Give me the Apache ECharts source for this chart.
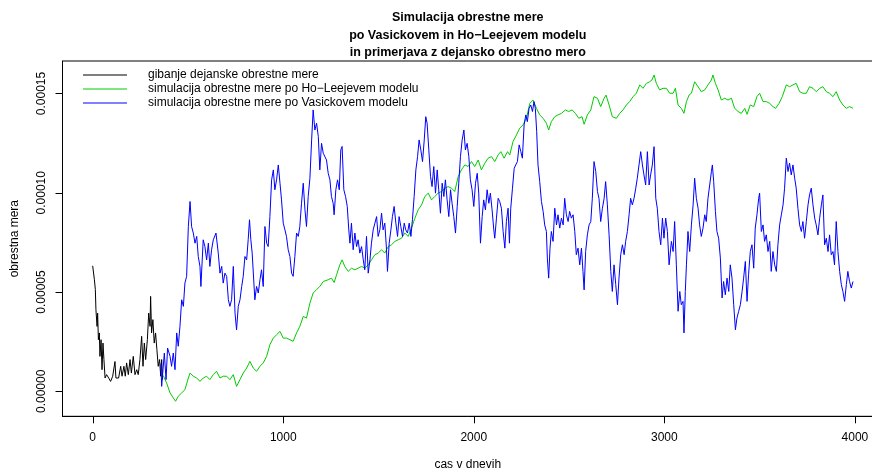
<!DOCTYPE html>
<html>
<head>
<meta charset="utf-8">
<script src="https://cdn.jsdelivr.net/npm/echarts@6/dist/echarts.min.js"></script>
<style>
  html, body { margin: 0; padding: 0; background: #fff; }
  #chart { width: 872px; height: 472px; }
</style>
</head>
<body>
<div id="chart"></div>
<script>
// vrednosti so v enotah 1e-5, [dan, obrestna mera]
var dejanskaMera = [
  [0,6.32],[9,5.62],[14,5.12],[17,4.11],[23,3.27],[26,3.94],[30,2.6],[35,2.94],[38,1.76],[44,2.6],
  [49,1.09],[54,2.43],[59,1.6],[65,0.67],[73,0.84],[84,0.67],[94,0.5],[105,0.76],[117,1.5],[122,0.67],
  [136,0.67],[147,1.26],[154,0.76],[164,1.26],[171,0.76],[178,1.43],[187,0.84],[196,1.6],[203,0.92],
  [213,1.76],[222,0.84],[231,1.09],[239,0.84],[248,1.6],[257,2.77],[264,1.26],[271,2.43],[278,1.6],
  [287,2.6],[294,3.94],[301,3.27],[304,4.78],[309,2.94],[316,3.61],[323,2.43],[330,2.94],[337,2.1],
  [344,1.26],[351,1.6],[357,0.76],[362,1.6],[367,0.59]
];

var hoLeeSim = [
  [370,0.8],[388,0.42],[406,-0.08],[423,-0.33],[435,-0.5],[449,-0.25],[467,-0.08],[484,0.08],[502,0.67],
  [511,0.92],[528,0.76],[546,0.67],[563,0.5],[580,0.67],[598,0.76],[615,0.59],[633,0.84],[650,1.01],
  [668,0.67],[685,0.76],[703,0.76],[720,0.59],[738,0.84],[755,0.25],[773,0.59],[790,0.92],[808,1.17],
  [825,1.51],[843,1.17],[860,1.01],[878,1.26],[895,1.43],[913,1.76],[930,2.35],[948,2.68],[965,2.85],
  [983,3.02],[1000,2.68],[1017,2.68],[1035,2.6],[1052,2.52],[1070,2.94],[1087,3.27],[1105,3.77],
  [1122,3.69],[1140,4.44],[1157,4.95],[1175,5.12],[1192,5.28],[1210,5.53],
  [1236,5.62],[1253,5.7],[1267,5.48],[1280,5.87],[1297,6.37],[1309,6.62],[1323,6.29],[1341,6.04],
  [1358,6.2],[1376,6.12],[1393,6.2],[1411,6.29],[1428,6.2],[1446,6.37],[1463,6.62],[1481,6.88],
  [1498,6.96],[1516,7.13],[1533,6.96],[1551,7.29],[1568,7.38],[1586,7.55],[1603,7.63],[1621,7.71],
  [1638,7.97],[1656,7.8],[1673,8.22],[1691,8.72],[1708,9.14],[1726,9.39],[1743,9.81],[1761,9.98],
  [1778,9.64],[1795,9.81],[1813,9.98],[1830,10.06],[1848,10.23],[1865,10.31],[1883,10.23],[1900,10.06],
  [1918,10.81],[1935,11.15],[1953,11.4],[1970,11.32],[1988,11.57],[2005,11.32],[2023,11.65],[2040,11.15],
  [2058,11.49],[2075,11.74],[2093,11.82],
  [2110,11.57],[2128,11.91],[2142,12.07],[2159,11.74],[2177,12.07],[2189,11.91],[2206,12.58],[2224,12.91],
  [2241,13.25],[2259,13.42],[2276,13.75],[2294,14.5],[2311,14.67],[2329,14.25],[2346,13.92],[2364,13.75],
  [2381,13.5],[2393,13.16],[2407,13.58],[2425,13.83],[2442,13.92],[2460,14.0],[2481,14.17],[2498,14.09],
  [2516,14.17],[2533,14.0],[2551,13.75],[2568,13.83],[2579,13.45],[2596,13.92],[2614,14.17],[2631,14.84],
  [2649,14.76],[2666,14.34],[2684,14.76],[2694,14.92],[2710,14.42],[2727,13.83],[2748,13.75],[2766,14.0],
  [2783,14.17],[2801,14.42],[2818,14.59],[2836,14.84],[2853,15.01],[2871,15.43],[2888,15.26],[2906,15.51],
  [2923,15.59],[2935,15.68],[2946,15.93],[2958,15.51],[2975,15.18],[2993,15.26],[3011,15.26],
  [3028,15.01],[3046,15.01],[3058,15.26],[3072,14.42],[3089,14.25],[3103,14.0],[3116,14.59],[3130,14.92],
  [3142,15.01],[3159,15.59],[3177,15.34],[3194,15.09],[3212,15.18],[3229,15.43],[3247,15.68],[3255,15.93],
  [3268,15.51],[3282,15.18],[3299,14.67],[3317,14.76],[3334,14.67],[3352,14.76],[3369,14.25],[3387,14.09],
  [3404,14.0],[3422,14.25],[3434,13.95],[3451,14.42],[3469,14.34],[3486,14.84],[3500,15.01],[3518,14.59],
  [3535,14.59],[3553,14.5],[3570,14.34],[3584,14.25],[3602,14.5],[3619,14.84],[3640,15.43],[3657,15.34],
  [3675,15.43],[3692,15.51],[3710,15.09],[3727,15.01],[3745,15.01],[3762,15.34],[3780,15.26],[3797,15.09],
  [3815,15.26],[3832,15.34],[3850,15.09],[3867,15.01],[3885,14.84],[3902,15.09],[3920,14.67],[3937,14.42],
  [3955,14.25],[3972,14.34],[3990,14.25]
];

var vasicekSim = [
  [358,1.4],[362,0.25],[376,1.93],[385,0.59],[393,2.18],[406,1.76],[414,1.26],[423,1.93],[432,1.09],
  [441,2.94],[449,2.27],[458,3.27],[467,4.61],[476,4.28],[484,5.45],[493,5.79],[502,8.3],[511,9.56],
  [519,8.3],[528,7.97],[537,7.46],[546,7.8],[554,6.79],[563,6.29],[568,5.28],[580,7.63],[589,7.29],
  [598,6.62],[607,7.46],[615,6.29],[624,7.13],[633,7.63],[647,7.97],[659,6.96],[668,5.95],[677,6.29],
  [685,5.45],[694,5.95],[703,5.79],[712,4.61],[720,4.28],[729,4.61],[738,6.29],[747,3.94],[755,3.1],
  [764,4.28],[773,4.61],[782,5.28],[790,5.79],[799,6.79],[808,6.62],[816,7.63],[823,8.64],[830,7.63],
  [837,6.96],[846,5.45],[851,4.61],[860,5.28],[869,4.95],[878,5.62],[886,6.12],[895,5.28],[904,8.3],
  [913,7.46],[921,7.29],[930,8.8],[939,10.65],[948,11.15],[956,10.15],[965,10.65],[974,11.4],[983,10.48],
  [991,9.64],[1000,8.47],[1009,8.13],[1017,7.8],[1026,7.13],[1035,6.79],[1044,5.95],[1052,5.79],
  [1061,6.79],[1070,7.97],[1079,7.8],[1087,8.3],[1096,9.47],[1105,10.48],[1114,9.14],[1122,8.3],
  [1131,9.81],[1140,10.73],[1149,12.66],[1157,14.17],[1166,13.16],[1175,13.5],[1184,12.83],[1192,11.15],
  [1201,12.49],[1210,11.99],
  [1218,12.07],[1227,11.65],[1236,10.98],[1245,10.65],[1253,9.81],[1262,9.47],[1267,8.89],[1276,10.15],
  [1285,10.65],[1294,10.15],[1302,12.16],[1309,12.33],[1318,10.15],[1327,9.81],[1336,9.31],[1344,8.13],
  [1350,7.46],[1358,8.47],[1367,7.13],[1376,7.97],[1385,7.29],[1393,7.63],[1402,6.96],[1411,7.29],
  [1420,6.62],[1428,6.12],[1437,7.8],[1446,5.95],[1455,6.62],[1463,7.46],[1472,8.13],[1481,8.47],
  [1490,8.8],[1498,7.8],[1507,8.13],[1516,8.97],[1524,8.13],[1533,8.47],[1542,7.13],[1547,6.04],
  [1556,7.46],[1565,8.13],[1573,8.8],[1582,9.31],[1591,8.47],[1600,7.8],[1608,8.8],[1617,8.3],
  [1626,7.8],[1635,8.47],[1643,8.13],[1652,7.97],[1661,8.47],[1670,7.8],[1678,8.64],[1687,9.81],
  [1696,11.15],[1705,11.82],[1713,12.66],[1722,12.16],[1731,11.57],[1740,12.66],[1748,13.83],[1755,13.5],
  [1764,12.16],[1773,10.81],[1781,10.31],[1790,11.32],[1799,9.98],[1808,11.15],[1816,10.15],[1825,8.97],
  [1834,10.48],[1843,9.81],[1851,10.65],[1860,9.64],[1869,8.8],[1878,10.15],[1886,9.47],[1895,8.8],
  [1904,7.97],[1913,9.31],[1921,10.48],[1930,11.82],[1939,12.66],[1948,13.16],[1956,12.16],[1965,12.49],
  [1974,11.82],[1982,10.65],[1991,10.15],[2000,9.31],[2009,10.48],[2018,10.98],[2026,9.98],[2035,7.46],
  [2044,8.8],[2052,9.64],[2061,9.14],[2070,10.15],[2079,9.47],[2087,9.98],[2096,9.14],[2105,8.13],
  [2110,7.71],[2119,8.72],[2128,9.72],[2136,9.56],[2145,9.22],[2154,8.05],[2163,7.21],[2171,8.55],
  [2180,9.22],[2187,7.46],[2194,9.22],[2203,10.23],[2212,11.23],[2220,11.4],[2229,11.57],[2238,12.41],
  [2247,12.07],[2255,11.74],[2264,13.42],[2273,13.92],[2281,13.58],[2290,14.25],[2299,14.42],[2308,14.09],
  [2316,14.59],[2323,14.25],[2330,13.08],[2337,11.4],[2346,10.56],[2355,9.56],[2364,9.06],[2372,8.38],
  [2381,8.05],[2386,6.71],[2393,5.7],[2400,7.21],[2407,8.05],[2416,7.55],[2425,9.22],[2434,8.38],
  [2442,8.89],[2451,8.22],[2460,8.72],[2469,8.38],[2477,9.72],[2486,8.89],[2495,8.55],[2503,9.06],
  [2512,8.72],[2521,8.89],[2530,8.05],[2538,6.88],[2547,7.21],[2556,6.37],[2565,7.21],[2573,6.04],
  [2579,5.11],[2587,7.04],[2596,7.88],[2605,8.38],[2614,8.55],[2622,9.72],[2631,11.57],[2640,11.07],
  [2649,10.06],[2657,9.72],[2666,8.55],[2675,9.22],[2684,9.72],[2692,10.56],[2701,9.39],[2710,7.88],
  [2719,6.04],[2727,5.03],[2736,6.37],[2745,5.37],[2754,4.36],[2762,5.7],[2771,6.88],[2780,7.38],
  [2789,6.88],[2797,7.55],[2806,8.05],[2815,8.89],[2823,9.72],[2832,9.39],[2841,9.72],[2850,10.23],
  [2858,10.73],[2867,11.4],[2876,12.07],[2885,11.4],[2893,10.9],[2902,10.39],[2911,12.07],[2920,10.39],
  [2928,10.9],[2937,11.4],[2946,12.32],[2955,9.72],[2963,9.22],[2972,8.05],[2981,7.38],[2990,8.72],
  [2998,7.71],[3007,8.72],[3016,8.05],[3025,6.37],
  [3037,7.55],[3046,7.04],[3054,8.55],[3063,6.37],[3072,4.03],[3081,5.03],[3089,4.36],[3098,4.53],
  [3103,2.94],[3110,5.03],[3116,6.37],[3124,8.05],[3133,7.04],[3142,8.38],[3151,9.39],[3159,10.73],
  [3168,9.72],[3177,9.22],[3185,8.38],[3194,7.8],[3203,8.22],[3212,8.89],[3220,8.55],[3229,9.72],
  [3238,10.39],[3247,11.07],[3252,11.4],[3259,10.56],[3268,9.06],[3276,8.05],[3285,7.71],[3294,6.71],
  [3303,4.7],[3311,5.53],[3320,4.86],[3329,5.7],[3338,5.03],[3346,6.37],[3355,5.7],[3364,4.36],
  [3373,3.1],[3381,3.69],[3390,4.03],[3399,4.36],[3408,5.03],[3416,5.7],[3425,6.54],[3434,4.53],
  [3442,5.87],[3451,7.04],[3460,7.38],[3469,6.2],[3477,8.22],[3486,8.89],[3495,9.72],[3500,9.98],
  [3509,8.05],[3518,8.38],[3526,7.55],[3535,7.88],[3544,7.04],[3553,7.55],[3561,6.04],[3570,7.04],
  [3579,6.37],[3588,6.04],[3596,7.38],[3605,8.38],[3614,8.89],[3623,9.39],[3631,10.23],[3640,11.74],
  [3649,11.07],[3657,11.49],[3666,10.9],[3675,11.4],[3684,10.73],[3692,10.23],[3701,9.22],[3710,8.38],
  [3719,8.05],[3727,8.55],[3736,7.71],[3745,8.55],[3754,9.39],[3762,9.89],[3771,10.23],[3780,9.39],
  [3789,8.72],[3797,8.38],[3806,7.88],[3815,8.72],[3824,9.39],[3832,9.89],[3841,7.38],[3850,7.71],
  [3859,7.04],[3867,7.88],[3876,6.88],[3885,7.04],[3893,6.37],[3902,8.55],[3911,7.04],[3920,6.04],
  [3929,5.37],[3937,5.03],[3946,4.53],[3955,5.37],[3963,6.04],[3972,5.53],[3981,5.2],[3990,5.53]
];

var xTicks = [0, 1000, 2000, 3000, 4000];
var yTicks = [0, 5, 10, 15];

var imena = [
  'gibanje dejanske obrestne mere',
  'simulacija obrestne mere po Ho\u2212Leejevem modelu',
  'simulacija obrestne mere po Vasickovem modelu'
];

var xMin = -158.4, xMax = 4095;
var yMin = -1.258, yMax = 16.635;
var font = "'Liberation Sans', Arial, sans-serif";

var myChart = echarts.init(document.getElementById('chart'), null, { renderer: 'canvas' });
var option = {
  animation: false,
  backgroundColor: '#fff',
  textStyle: { fontFamily: font, color: '#000' },
  title: {
    text: 'Simulacija obrestne mere\npo Vasickovem in Ho\u2212Leejevem modelu\nin primerjava z dejansko obrestno mero',
    left: 467.75,
    top: 9,
    textAlign: 'center',
    padding: 0,
    textStyle: { fontFamily: font, fontSize: 12.5, fontWeight: 'bold', lineHeight: 17.5, color: '#000' }
  },
  legend: {
    orient: 'vertical',
    left: 83,
    top: 68,
    padding: 0,
    itemWidth: 44,
    itemHeight: 14,
    itemGap: 0,
    icon: 'path://M0,0L44,0L44,1L0,1Z',
    selectedMode: false,
    data: imena,
    textStyle: { fontFamily: font, fontSize: 12, lineHeight: 14, color: '#000', padding: [0, 0, 0, 16] }
  },
  grid: {
    left: 62.5,
    top: 61,
    width: 810.5,
    height: 355.3,
    show: true,
    borderColor: '#000',
    borderWidth: 1,
    containLabel: false,
    outerBoundsMode: 'none'
  },
  xAxis: {
    type: 'value',
    min: xMin,
    max: xMax,
    name: 'cas v dnevih',
    nameLocation: 'middle',
    nameGap: 42,
    nameTextStyle: { fontFamily: font, fontSize: 12, color: '#000' },
    axisLine: { show: true, onZero: false, lineStyle: { color: '#000', width: 1 } },
    axisTick: { show: false },
    axisLabel: {
      margin: 15, fontSize: 12, color: '#000', fontFamily: font, customValues: xTicks,
      formatter: function (v) { return String(v); }
    },
    splitLine: { show: false }
  },
  yAxis: {
    type: 'value',
    min: yMin,
    max: yMax,
    name: 'obrestna mera',
    nameLocation: 'middle',
    nameGap: 42,
    nameTextStyle: { fontFamily: font, fontSize: 12, color: '#000' },
    axisLine: { show: true, onZero: false, lineStyle: { color: '#000', width: 1 } },
    axisTick: { show: false },
    axisLabel: {
      margin: 15, fontSize: 12, color: '#000', fontFamily: font, rotate: 90,
      customValues: yTicks,
      formatter: function (v) { return (v * 1e-5).toFixed(5); }
    },
    splitLine: { show: false }
  },
  series: [
    {
      name: imena[0], type: 'line', data: dejanskaMera, symbol: 'none',
      lineStyle: { color: '#000000', width: 1 }, itemStyle: { color: '#000000' }
    },
    {
      name: imena[1], type: 'line', data: hoLeeSim, symbol: 'none',
      lineStyle: { color: '#00CD00', width: 1 }, itemStyle: { color: '#00CD00' }
    },
    {
      name: imena[2], type: 'line', data: vasicekSim, symbol: 'none',
      lineStyle: { color: '#0000FF', width: 1 }, itemStyle: { color: '#0000FF' }
    }
  ]
};
myChart.setOption(option);

// crtice na oseh: polozaj vzamemo iz skale osi
var crtice = [];
xTicks.forEach(function (t) {
  var p = myChart.convertToPixel({ gridIndex: 0 }, [t, yMin]);
  var x = Math.round(p[0]) + 0.5;
  crtice.push({ type: 'line', silent: true, z: 100,
    shape: { x1: x, y1: p[1], x2: x, y2: p[1] + 7 },
    style: { stroke: '#000', lineWidth: 1 } });
});
yTicks.forEach(function (t) {
  var p = myChart.convertToPixel({ gridIndex: 0 }, [xMin, t]);
  var y = Math.round(p[1]) + 0.5;
  crtice.push({ type: 'line', silent: true, z: 100,
    shape: { x1: p[0] - 7, y1: y, x2: p[0], y2: y },
    style: { stroke: '#000', lineWidth: 1 } });
});
myChart.setOption({ graphic: { elements: crtice } });
</script>
</body>
</html>
